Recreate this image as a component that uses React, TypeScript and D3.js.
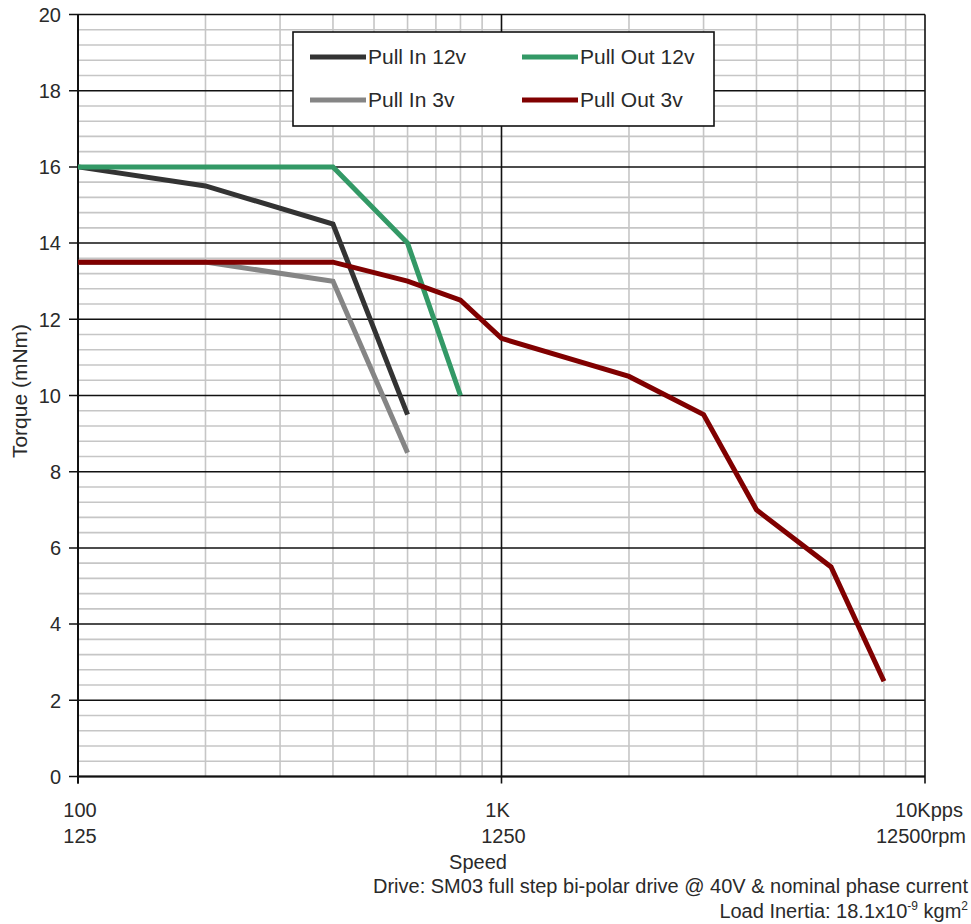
import React from "react";
import * as d3 from "d3";

const speeds12In = [100, 200, 400, 600];
const torque12In = [16, 15.5, 14.5, 9.5];
const speeds3In = [100, 200, 400, 600];
const torque3In = [13.5, 13.5, 13, 8.5];
const speeds12Out = [100, 400, 600, 800];
const torque12Out = [16, 16, 14, 10];
const speeds3Out = [100, 400, 600, 800, 1000, 2000, 3000, 4000, 6000, 8000];
const torque3Out = [13.5, 13.5, 13, 12.5, 11.5, 10.5, 9.5, 7, 5.5, 2.5];

const seriesNames = ["Pull In 12v", "Pull Out 12v", "Pull In 3v", "Pull Out 3v"];
const seriesColors = ["#333333", "#339966", "#858585", "#800000"];

const xTickValues = [100, 1000, 10000];
const xTickRow1 = ["100", "1K", "10Kpps"];
const xTickRow2 = ["125", "1250", "12500rpm"];
const yTickValues = [0, 2, 4, 6, 8, 10, 12, 14, 16, 18, 20];

export default function App() {
  const W = 971, H = 924;
  const left = 78, right = 925, top = 14.5, bottom = 776.5;
  const x = d3.scaleLog().domain([100, 10000]).range([left, right]);
  const y = d3.scaleLinear().domain([0, 20]).range([bottom, top]);

  const series = [
    { name: seriesNames[0], color: seriesColors[0], xs: speeds12In, ys: torque12In },
    { name: seriesNames[1], color: seriesColors[1], xs: speeds12Out, ys: torque12Out },
    { name: seriesNames[2], color: seriesColors[2], xs: speeds3In, ys: torque3In },
    { name: seriesNames[3], color: seriesColors[3], xs: speeds3Out, ys: torque3Out },
  ];
  const line = d3.line<[number, number]>().x((d) => x(d[0])).y((d) => y(d[1]));

  const minorY: number[] = [];
  for (let i = 0; i <= 50; i++) {
    const v = +(i * 0.4).toFixed(2);
    if (Math.abs(v / 2 - Math.round(v / 2)) > 1e-6) minorY.push(v);
  }
  const vMinor: number[] = [];
  [100, 1000].forEach((dec) => {
    for (let k = 2; k <= 9; k++) vMinor.push(dec * k);
  });

  const font = "'Liberation Sans', Arial, sans-serif";
  const tc = "#2a2a2a";

  const legendItems = [
    { i: 0, lx: 310, ly: 57 },
    { i: 1, lx: 522, ly: 57 },
    { i: 2, lx: 310, ly: 100 },
    { i: 3, lx: 522, ly: 100 },
  ];

  return (
    <div style={{ position: "absolute", left: 0, top: 0 }}>
      <svg width={W} height={H} style={{ display: "block", background: "#fff" }} fontFamily={font}>
        {minorY.map((v) => (
          <line key={"mh" + v} x1={left} x2={right} y1={y(v)} y2={y(v)} stroke="#c6c6c6" strokeWidth={1.6} />
        ))}
        {vMinor.map((v) => (
          <line key={"mv" + v} x1={x(v)} x2={x(v)} y1={top} y2={bottom} stroke="#c6c6c6" strokeWidth={1.6} />
        ))}
        {yTickValues.map((v) => (
          <line key={"Mh" + v} x1={left - 9} x2={right} y1={y(v)} y2={y(v)} stroke="#111" strokeWidth={1.5} />
        ))}
        {xTickValues.map((v) => (
          <line key={"Mv" + v} x1={x(v)} x2={x(v)} y1={top} y2={bottom + 7} stroke="#111" strokeWidth={1.6} />
        ))}
        <line x1={left} x2={right} y1={bottom} y2={bottom} stroke="#111" strokeWidth={2} />
        <line x1={left} x2={left} y1={top} y2={bottom + 7} stroke="#111" strokeWidth={2} />

        {series.map((s) => (
          <path
            key={s.name}
            d={line(s.xs.map((v, i) => [v, s.ys[i]] as [number, number])) || ""}
            fill="none"
            stroke={s.color}
            strokeWidth={5}
            strokeLinejoin="miter"
          />
        ))}

        <rect x={293} y={32} width={421} height={94} fill="#fff" stroke="#111" strokeWidth={1.6} />
        {legendItems.map((l) => (
          <g key={"lg" + l.i}>
            <line x1={l.lx} x2={l.lx + 56} y1={l.ly} y2={l.ly} stroke={seriesColors[l.i]} strokeWidth={5} />
            <text x={l.lx + 58} y={l.ly} dy="0.35em" fontSize={21} fill={tc}>
              {seriesNames[l.i]}
            </text>
          </g>
        ))}

        {yTickValues.map((v) => (
          <text key={"yt" + v} x={61} y={y(v)} dy="0.36em" textAnchor="end" fontSize={20} fill={tc}>
            {v}
          </text>
        ))}
        {xTickValues.map((v, i) => (
          <g key={"xt" + v}>
            <text x={x(v) + (i === 1 ? -4 : i === 2 ? 4 : 2)} y={817} textAnchor="middle" fontSize={20} fill={tc}>
              {xTickRow1[i]}
            </text>
            <text x={x(v) + (i === 2 ? -4 : 2)} y={843} textAnchor="middle" fontSize={20} fill={tc}>
              {xTickRow2[i]}
            </text>
          </g>
        ))}

        <text x={478} y={869} textAnchor="middle" fontSize={20} fill={tc}>
          Speed
        </text>
        <text transform="translate(27,391) rotate(-90)" textAnchor="middle" fontSize={21} fill={tc}>
          Torque (mNm)
        </text>
        <text x={968} y={893} textAnchor="end" fontSize={20} fill={tc}>
          Drive: SM03 full step bi-polar drive @ 40V &amp; nominal phase current
        </text>
        <text x={968} y={918} textAnchor="end" fontSize={20} fill={tc}>
          Load Inertia: 18.1x10
          <tspan dy={-8} fontSize={12}>-9</tspan>
          <tspan dy={8}> kgm</tspan>
          <tspan dy={-8} fontSize={12}>2</tspan>
        </text>
      </svg>
    </div>
  );
}
